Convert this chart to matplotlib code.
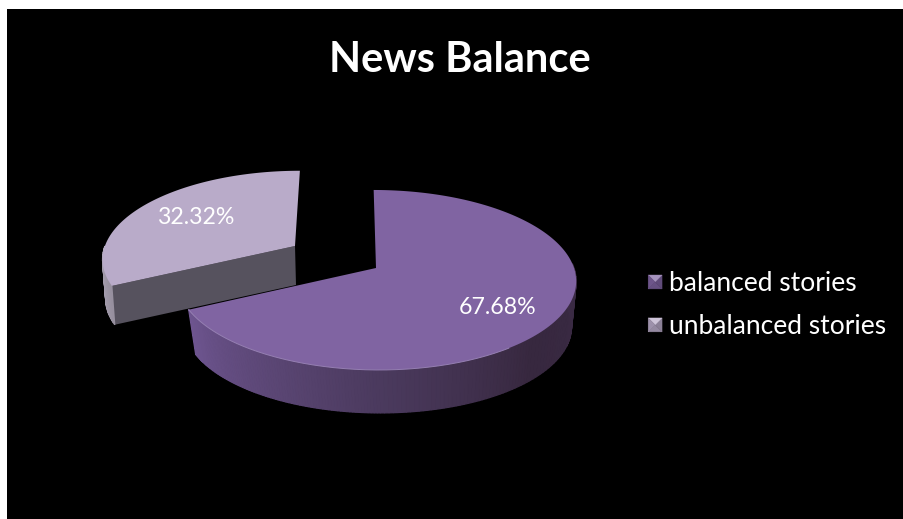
import numpy as np
import matplotlib
matplotlib.use("Agg")
import matplotlib.pyplot as plt
from matplotlib.colors import to_rgb
from matplotlib.legend_handler import HandlerBase
from matplotlib.patches import Patch, Polygon, Rectangle

plt.rcParams['font.family'] = ['Lato', 'DejaVu Sans']

labels = ['balanced stories', 'unbalanced stories']
values = [67.68, 32.32]
title = 'News Balance'

# pie geometry, in picture pixels
cx, cy = 376, 268
rx, ry = 198, 88.4
k = 0.133        # perspective
shrink = 0.97
explode = (-81, -22)


def project(theta, r=1.0, dx=0, dy=0, shear=0.0, depth=0):
    c, s = np.cos(theta) * r, -np.sin(theta) * r
    w = 1 - k * s
    x, y = rx * c / w, ry * s / w
    if depth:
        x, y = x * shrink, y * shrink + depth
    return cx + dx + x - y * shear, cy + dy + y


def mix(a, b, t):
    a, b = np.array(to_rgb(a)), np.array(to_rgb(b))
    return tuple(a + (b - a) * t)


def wall(ax, a0, a1, col0, col1, n=80, **kw):
    # outer wall of a slice, cut in strips for the shading
    d = kw.pop('depth', 46)
    th = np.linspace(a0, a1, n + 1)
    for i in range(n):
        x0, y0 = project(th[i], **kw)
        x1, y1 = project(th[i + 1], **kw)
        x2, y2 = project(th[i + 1], depth=d, **kw)
        x3, y3 = project(th[i], depth=d, **kw)
        c = mix(col0, col1, i / max(n - 1, 1))
        ax.fill([x0, x1, x2, x3], [y0, y1, y2, y3], fc=c, ec=c, lw=0.9, zorder=2)


def top(ax, a0, a1, color, **kw):
    th = np.linspace(a0, a1, 200)
    x, y = project(th, **kw)
    ax0, ay0 = project(0.0, **{**kw, 'r': 0.0})
    ax.fill(np.r_[ax0, x], np.r_[ay0, y], color=color, lw=0, zorder=3)


class BevelHandler(HandlerBase):
    # small square with four shaded sides
    def create_artists(self, legend, orig, xd, yd, w, h, fontsize, trans):
        base = orig.get_facecolor()
        s = 10
        x0 = -xd
        y0 = -yd + (h - s) / 2
        m = (x0 + s / 2, y0 + s / 2)
        a, b, c, d = (x0, y0), (x0 + s, y0), (x0 + s, y0 + s), (x0, y0 + s)
        out = []
        for p, q, t in [(a, b, 0.8), (b, c, 0.75), (c, d, 1.3), (d, a, 0.85)]:
            col = mix(base, 'white', t - 1) if t > 1 else mix('black', base, t)
            out.append(Polygon([p, q, m], closed=True, fc=col, ec=col, lw=0.3, transform=trans))
        return out


fig = plt.figure(figsize=(9.04, 5.19), dpi=100, facecolor='white')
ax = fig.add_axes([0, 0, 1, 1])
ax.set_xlim(0, 904)
ax.set_ylim(519, 0)
ax.axis('off')
ax.add_patch(Rectangle((7, 9), 897, 510, fc='black', ec='none', zorder=0))

# slices run clockwise from 12 o'clock
sweep = np.array(values) / sum(values) * 2 * np.pi
a_start = np.pi / 2
purple_top = '#8064A2'
grey_top = '#B9ABC9'

# grey slice, pulled out to the left
ex, ey = explode
grey = dict(r=0.96, dx=ex, dy=ey, shear=0.065)
g0, g1 = a_start + sweep[1], a_start
xa, ya = project(g0, **grey)
xb, yb = project(g0, depth=40, **grey)
xc, yc = project(0.0, **{**grey, 'r': 0.0})
ax.fill([xc, xa, xb, xc + 1], [yc, ya, yb, yc + 39], color='#56525E', lw=0, zorder=2)
wall(ax, np.pi, g0, '#B5ADBF', '#97909F', n=20, depth=40, **grey)
top(ax, g1, g0, grey_top, **grey)

# purple slice
tilt = -0.03
wall(ax, g0, 3 * np.pi / 2, '#6E5590', '#4B3A5E', shear=tilt)
wall(ax, 3 * np.pi / 2, 1.75 * np.pi, '#4B3A5E', '#37283F', n=40, shear=tilt)
wall(ax, 1.75 * np.pi, 2 * np.pi + 0.05, '#37283F', '#3A2A44', n=30, shear=tilt)
top(ax, a_start, a_start - sweep[0], purple_top, shear=tilt)
x, y = project(np.linspace(g0, 1.7 * np.pi, 150), shear=tilt)
ax.plot(x, y, color='#957FB2', lw=0.7, zorder=4)

ax.text(460, 60, title, color='white', fontsize=30, fontweight='bold',
        ha='center', va='center', zorder=5)
ax.text(196, 218, '%.2f%%' % values[1], color='white', fontsize=16.7, ha='center', va='center', zorder=5)
ax.text(498, 308, '%.2f%%' % values[0], color='white', fontsize=16.7, ha='center', va='center', zorder=5)

handles = [Patch(facecolor=purple_top), Patch(facecolor=grey_top)]
leg = ax.legend(handles, labels, handler_map={Patch: BevelHandler()}, loc='center left',
                bbox_to_anchor=(0.717, 0.412), frameon=False, fontsize=19,
                labelcolor='white', handlelength=0.6, handletextpad=0.2, labelspacing=0.68,
                borderpad=0, borderaxespad=0)
leg.set_zorder(5)

fig.savefig('out.png', dpi=100, facecolor='white')
